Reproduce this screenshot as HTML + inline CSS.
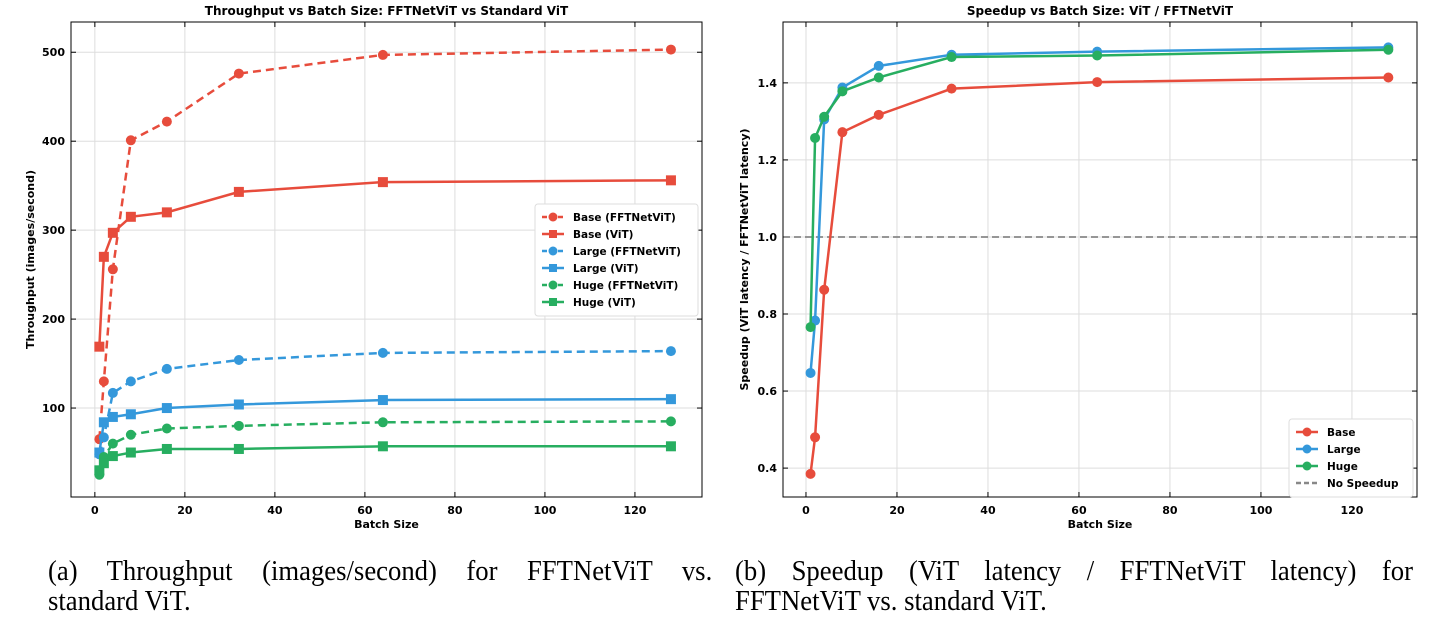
<!DOCTYPE html>
<html><head><meta charset="utf-8"><style>
body{margin:0;background:#fff;width:1432px;height:630px;overflow:hidden}
svg{position:absolute;left:0;top:0}
.cap{position:absolute;font-family:"Liberation Serif",serif;font-size:29px;line-height:30px;color:#000;white-space:nowrap;transform:scaleX(0.92);transform-origin:0 0}
.j{text-align:justify;text-align-last:justify}
</style></head><body>
<svg id="s" width="1432" height="630"></svg>
<div>
<div class="cap j" style="left:48px;top:556px;width:722px">(a) Throughput (images/second) for FFTNetViT vs.</div>
<div class="cap" style="left:48px;top:586px">standard ViT.</div></div>
<div>
<div class="cap j" style="left:735px;top:556px;width:737px">(b) Speedup (ViT latency / FFTNetViT latency) for</div>
<div class="cap" style="left:735px;top:586px">FFTNetViT vs. standard ViT.</div></div>
<script>
const batch=[1,2,4,8,16,32,64,128];
const baseFFT=[65,130,256,401,422,476,497,503];
const baseViT=[169,270,297,315,320,343,354,356];
const largeFFT=[48,67,117,130,144,154,162,164];
const largeViT=[50,84,90,93,100,104,109,110];
const hugeFFT=[25,45,60,70,77,80,84,85];
const hugeViT=[30,38,46,50,54,54,57,57];
const spBase=[0.385,0.48,0.863,1.272,1.317,1.385,1.402,1.414];
const spLarge=[0.647,0.783,1.305,1.388,1.444,1.473,1.481,1.492];
const spHuge=[0.766,1.257,1.312,1.378,1.414,1.467,1.471,1.486];
const xTicks=[0,20,40,60,80,100,120];
const yTicksL=[100,200,300,400,500];
const yTicksR=[0.4,0.6,0.8,1.0,1.2,1.4];
const R='#e74c3c',B='#3498db',G='#27ae60';
const NS='http://www.w3.org/2000/svg',svg=document.getElementById('s');
function el(t,a,p){const e=document.createElementNS(NS,t);for(const k in a)e.setAttribute(k,a[k]);(p||svg).appendChild(e);return e;}
function txt(x,y,s,a){const e=el('text',Object.assign({x:x,y:y,'font-family':'DejaVu Sans, sans-serif','font-size':11,'font-weight':'bold','text-anchor':'middle'},a||{}));e.textContent=s;return e;}
function panel(o){
  const X=v=>o.x0+(v-o.xmin)/(o.xmax-o.xmin)*(o.x1-o.x0);
  const Y=v=>o.y1-(v-o.ymin)/(o.ymax-o.ymin)*(o.y1-o.y0);
  const g=el('g',{});
  
  
  o.xt.forEach(t=>{el('line',{x1:X(t),x2:X(t),y1:o.y0,y2:o.y1,stroke:'#ddd'},g);el('line',{x1:X(t),x2:X(t),y1:o.y1,y2:o.y1-5,stroke:'#000'},g);el('line',{x1:X(t),x2:X(t),y1:o.y0,y2:o.y0+5,stroke:'#000'},g);
    const e=txt(X(t),o.y1+17,t,{}) ;g.appendChild(e);});
  o.yt.forEach(t=>{el('line',{x1:o.x0,x2:o.x1,y1:Y(t),y2:Y(t),stroke:'#ddd'},g);el('line',{x1:o.x0,x2:o.x0+5,y1:Y(t),y2:Y(t),stroke:'#000'},g);el('line',{x1:o.x1,x2:o.x1-5,y1:Y(t),y2:Y(t),stroke:'#000'},g);
    const e=txt(o.x0-6,Y(t)+4,o.fmt(t),{'text-anchor':'end'});g.appendChild(e);});
  if(o.ref!==undefined){const l=el('line',{x1:o.x0,x2:o.x1,y1:Y(o.ref),y2:Y(o.ref),stroke:'#888','stroke-width':1.8,'stroke-dasharray':'7,4'},g);}
  el('rect',{x:o.x0,y:o.y0,width:o.x1-o.x0,height:o.y1-o.y0,fill:'none',stroke:'#000','stroke-width':1},g);
  o.series.forEach(s=>{
    const sg=el('g',{},g);
    el('polyline',{points:batch.map((b,i)=>X(b)+','+Y(s.v[i])).join(' '),fill:'none',stroke:s.c,'stroke-width':2.5,'stroke-dasharray':s.dash?'8,5':'none'},sg);
    batch.forEach((b,i)=>{let m;if(s.sq)m=el('rect',{x:X(b)-5,y:Y(s.v[i])-5,width:10,height:10,fill:s.c},sg);else m=el('circle',{cx:X(b),cy:Y(s.v[i]),r:5,fill:s.c},sg);
      });
  });
  const t=txt((o.x0+o.x1)/2,15,o.title,{'font-size':12});
  const xl=txt((o.x0+o.x1)/2,528,'Batch Size',{});
  const yl=txt(0,0,o.ylab,{transform:`translate(${o.ylx},${(o.y0+o.y1)/2}) rotate(-90)`});
  const lg=el('g',{},g);
  el('rect',{x:o.lx,y:o.ly,width:o.lw,height:o.leg.length*17+10,fill:'#fff',stroke:'#ddd',rx:3},lg);
  o.leg.forEach((s,i)=>{const yy=o.ly+13+i*17;const le=el('g',{},lg);
    el('line',{x1:o.lx+7,x2:o.lx+29,y1:yy,y2:yy,stroke:s.c,'stroke-width':2.5,'stroke-dasharray':s.dash?'5,3':'none'},le);
    if(s.sq)el('rect',{x:o.lx+14,y:yy-4,width:8,height:8,fill:s.c},le);else if(!s.nomark)el('circle',{cx:o.lx+18,cy:yy,r:4.5,fill:s.c},le);
    const t=txt(o.lx+38,yy+4,s.label,{'text-anchor':'start','font-size':10.5});le.appendChild(t);});
}
const sL=[{id:'base-fftnetvit',v:baseFFT,c:R,dash:1,label:'Base (FFTNetViT)'},{id:'base-vit',v:baseViT,c:R,sq:1,label:'Base (ViT)'},
{id:'large-fftnetvit',v:largeFFT,c:B,dash:1,label:'Large (FFTNetViT)'},{id:'large-vit',v:largeViT,c:B,sq:1,label:'Large (ViT)'},
{id:'huge-fftnetvit',v:hugeFFT,c:G,dash:1,label:'Huge (FFTNetViT)'},{id:'huge-vit',v:hugeViT,c:G,sq:1,label:'Huge (ViT)'}];
panel({name:'throughput-chart',x0:71,x1:702,y0:22,y1:497,xmin:-5.3,xmax:134.9,ymin:0,ymax:534,xt:xTicks,yt:yTicksL,fmt:t=>t,
 series:sL,leg:sL,lx:535,ly:204,lw:163,title:'Throughput vs Batch Size: FFTNetViT vs Standard ViT',ylab:'Throughput (images/second)',ylx:34});
const sR=[{id:'speedup-base',v:spBase,c:R,label:'Base'},{id:'speedup-large',v:spLarge,c:B,label:'Large'},{id:'speedup-huge',v:spHuge,c:G,label:'Huge'}];
panel({name:'speedup-chart',x0:783,x1:1417,y0:22,y1:497,xmin:-5.05,xmax:134.3,ymin:0.325,ymax:1.558,xt:xTicks,yt:yTicksR,fmt:t=>t.toFixed(1),ref:1.0,
 series:sR,leg:sR.concat([{c:'#888',dash:1,nomark:1,label:'No Speedup'}]),lx:1289,ly:419,lw:124,title:'Speedup vs Batch Size: ViT / FFTNetViT',ylab:'Speedup (ViT latency / FFTNetViT latency)',ylx:748});
</script>
</body></html>
